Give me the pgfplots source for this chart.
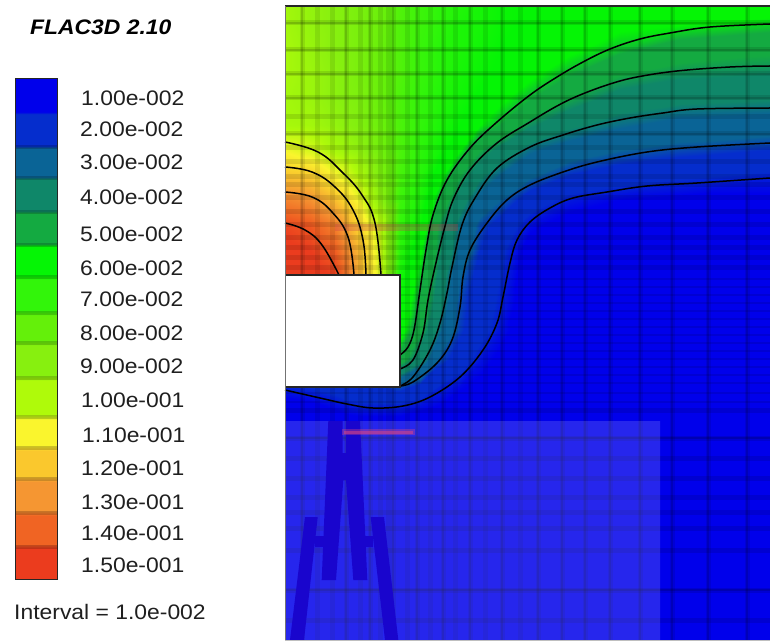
\documentclass[border=0pt]{standalone}
\usepackage{pgfplots}
\usepackage{pgfplotstable}
\usepackage{fontspec}
\setmainfont{Liberation Sans}
\pgfplotsset{compat=1.18}
\definecolor{towerblue}{RGB}{25,5,205}
\definecolor{streakA}{RGB}{225,70,130}
\definecolor{streakB}{RGB}{200,60,80}
\pgfplotstableread{
x y v
285 6 .097
310 6 .093
335 6 .090
360 6 .086
380 6 .082
400 6 .076
420 6 .072
440 6 .069
460 6 .067
480 6 .065
500 6 .063
530 6 .062
570 6 .060
620 6 .060
680 6 .060
770 6 .060

285 25 .097
310 25 .093
335 25 .090
360 25 .086
380 25 .082
400 25 .076
420 25 .072
440 25 .069
460 25 .066
480 25 .065
500 25 .063
530 25 .061
570 25 .059
620 25 .058
680 25 .057
770 25 .055

285 50 .098
310 50 .094
335 50 .090
360 50 .086
380 50 .081
400 50 .076
420 50 .071
440 50 .068
460 50 .066
480 50 .064
500 50 .062
530 50 .060
570 50 .058
620 50 .054
680 50 .050
770 50 .048

285 75 .098
310 75 .095
335 75 .091
360 75 .086
380 75 .081
400 75 .076
420 75 .071
440 75 .068
460 75 .065
480 75 .063
500 75 .061
530 75 .058
570 75 .053
620 75 .047
680 75 .044
770 75 .043

285 100 .097
310 100 .095
335 100 .091
360 100 .087
380 100 .081
400 100 .075
420 100 .070
440 100 .067
460 100 .064
480 100 .061
500 100 .058
530 100 .053
570 100 .046
620 100 .040
680 100 .038
770 100 .037

285 125 .098
310 125 .097
335 125 .093
360 125 .088
380 125 .082
400 125 .075
420 125 .070
440 125 .066
460 125 .062
480 125 .057
500 125 .053
530 125 .044
570 125 .038
620 125 .034
680 125 .031
770 125 .030

285 150 .109
310 150 .105
335 150 .098
360 150 .092
380 150 .084
400 150 .075
420 150 .069
440 150 .064
460 150 .057
480 150 .047
500 150 .041
530 150 .034
570 150 .030
620 150 .027
680 150 .025
770 150 .023

285 175 .121
310 175 .119
335 175 .110
360 175 .099
380 175 .087
400 175 .074
420 175 .068
440 175 .059
460 175 .047
480 175 .038
500 175 .033
530 175 .028
570 175 .023
620 175 .020
680 175 .018
770 175 .016

285 200 .134
310 200 .131
335 200 .122
360 200 .108
380 200 .092
400 200 .072
420 200 .066
440 200 .052
460 200 .040
480 200 .031
500 200 .027
530 200 .020
570 200 .015
620 200 .013
680 200 .012
770 200 .012

285 225 .145
310 225 .142
335 225 .134
360 225 .116
380 225 .102
400 225 .070
420 225 .063
440 225 .045
460 225 .034
480 225 .025
500 225 .021
530 225 .014
570 225 .011
620 225 .010
680 225 .010
770 225 .010

285 250 .149
310 250 .147
335 250 .141
360 250 .122
380 250 .104
400 250 .068
420 250 .058
440 250 .044
460 250 .032
480 250 .023
500 250 .018
530 250 .011
570 250 .010
620 250 .010
680 250 .010
770 250 .010

285 275 .150
310 275 .150
335 275 .146
360 275 .124
380 275 .105
400 275 .065
420 275 .055
440 275 .041
460 275 .027
480 275 .021
500 275 .017
530 275 .010
570 275 .010
620 275 .010
680 275 .010
770 275 .010

285 300 .063
310 300 .063
335 300 .063
360 300 .063
380 300 .063
400 300 .063
420 300 .052
440 300 .039
460 300 .025
480 300 .020
500 300 .016
530 300 .010
570 300 .010
620 300 .010
680 300 .010
770 300 .010

285 330 .060
310 330 .060
335 330 .060
360 330 .060
380 330 .060
400 330 .060
420 330 .048
440 330 .034
460 330 .024
480 330 .019
500 330 .0145
530 330 .010
570 330 .010
620 330 .010
680 330 .010
770 330 .010

285 360 .050
310 360 .050
335 360 .050
360 360 .050
380 360 .050
400 360 .050
420 360 .039
440 360 .025
460 360 .020
480 360 .0145
500 360 .012
530 360 .010
570 360 .010
620 360 .010
680 360 .010
770 360 .010

285 387 .016
310 387 .017
335 387 .019
360 387 .022
380 387 .023
400 387 .025
420 387 .021
440 387 .016
460 387 .0135
480 387 .012
500 387 .010
530 387 .010
570 387 .010
620 387 .010
680 387 .010
770 387 .010

285 405 .011
310 405 .012
335 405 .014
360 405 .016
380 405 .016
400 405 .016
420 405 .0145
440 405 .013
460 405 .011
480 405 .010
500 405 .010
530 405 .010
570 405 .010
620 405 .010
680 405 .010
770 405 .010

285 420 .010
310 420 .010
335 420 .011
360 420 .012
380 420 .012
400 420 .012
420 420 .011
440 420 .011
460 420 .010
480 420 .010
500 420 .010
530 420 .010
570 420 .010
620 420 .010
680 420 .010
770 420 .010

285 640 .010
310 640 .010
335 640 .010
360 640 .010
380 640 .010
400 640 .010
420 640 .010
440 640 .010
460 640 .010
480 640 .010
500 640 .010
530 640 .010
570 640 .010
620 640 .010
680 640 .010
770 640 .010
}\fieldtable
\pgfplotstableread{
x y v
15 79 .010
57 79 .010

15 110 .010
57 110 .010

15 116 .020
57 116 .020

15 144 .020
57 144 .020

15 150 .030
57 150 .030

15 175 .030
57 175 .030

15 181 .040
57 181 .040

15 209 .040
57 209 .040

15 215 .050
57 215 .050

15 242 .050
57 242 .050

15 248 .060
57 248 .060

15 274 .060
57 274 .060

15 280 .070
57 280 .070

15 310 .070
57 310 .070

15 316 .080
57 316 .080

15 340 .080
57 340 .080

15 346 .090
57 346 .090

15 375 .090
57 375 .090

15 381 .100
57 381 .100

15 414 .100
57 414 .100

15 420 .110
57 420 .110

15 445 .110
57 445 .110

15 451 .120
57 451 .120

15 476 .120
57 476 .120

15 482 .130
57 482 .130

15 510 .130
57 510 .130

15 516 .140
57 516 .140

15 544 .140
57 544 .140

15 550 .150
57 550 .150

15 579 .150
57 579 .150
}\legendtable
\newcommand{\lab}[3]{\node[anchor=west,xscale=1.09,inner sep=0pt,text=black!88] at (axis cs:#1,#2) {\fontsize{21}{24}\selectfont #3};}
\begin{document}
\begin{tikzpicture}
\path[use as bounding box] (0,0) rectangle (770pt,644pt);
\begin{axis}[
  at={(0,0)}, anchor=south west,
  scale only axis, width=770pt, height=644pt, hide axis,
  xmin=0, xmax=770, ymin=0, ymax=644, y dir=reverse, clip=true,
  point meta min=0.01, point meta max=0.15,
  colormap={flac}{
    rgb255(10pt)=(0,0,235) rgb255(13pt)=(0,0,235)
    rgb255(17pt)=(5,45,205) rgb255(23pt)=(5,45,205)
    rgb255(27pt)=(10,100,150) rgb255(33pt)=(10,100,150)
    rgb255(37pt)=(15,135,105) rgb255(43pt)=(15,135,105)
    rgb255(47pt)=(20,170,65) rgb255(53pt)=(20,170,65)
    rgb255(57pt)=(5,245,5) rgb255(62pt)=(5,245,5)
    rgb255(70pt)=(50,245,10)
    rgb255(80pt)=(100,240,10)
    rgb255(90pt)=(135,240,15)
    rgb255(100pt)=(175,250,10)
    rgb255(110pt)=(250,245,45)
    rgb255(120pt)=(250,200,45)
    rgb255(130pt)=(245,150,50)
    rgb255(140pt)=(240,100,35)
    rgb255(147pt)=(235,60,30) rgb255(150pt)=(235,60,30)
  },
  vgrid/.style={black, opacity=#1, forget plot},
]
% field
\addplot[surf, shader=interp, mesh/cols=16, point meta=explicit, forget plot] table[x=x,y=y,meta=v] {\fieldtable};
% vertical mesh lines
\addplot[vgrid=.09, line width=5pt] coordinates {
(302,6)(302,640)

(317,6)(317,640)

(332,6)(332,640)

(346,6)(346,640)

(360,6)(360,640)

(370,6)(370,640)

(380,6)(380,640)

(388,6)(388,640)

(393,6)(393,640)

(407,6)(407,640)

(417,6)(417,640)

(430,6)(430,640)

(443,6)(443,640)

(455,6)(455,640)

(470,6)(470,640)

(485,6)(485,640)

(502,6)(502,640)

(520,6)(520,640)

(538,6)(538,640)

(562,6)(562,640)

(585,6)(585,640)

(610,6)(610,640)

(640,6)(640,640)

(672,6)(672,640)

(708,6)(708,640)

(747,6)(747,640)
};
\addplot[vgrid=.13, line width=2.6pt] coordinates {
(302,6)(302,640)

(346,6)(346,640)

(370,6)(370,640)

(393,6)(393,640)

(417,6)(417,640)

(443,6)(443,640)

(470,6)(470,640)

(502,6)(502,640)

(538,6)(538,640)

(562,6)(562,640)

(585,6)(585,640)

(610,6)(610,640)

(640,6)(640,640)

(672,6)(672,640)

(708,6)(708,640)

(747,6)(747,640)
};
% horizontal mesh lines
\addplot[vgrid=.11, line width=5pt] coordinates {
(285,23)(770,23)

(285,50)(770,50)

(285,74)(770,74)

(285,98)(770,98)

(285,117)(770,117)

(285,134)(770,134)

(285,148)(770,148)

(285,162)(770,162)

(285,177)(770,177)

(285,185)(770,185)

(285,198)(770,198)

(285,212)(770,212)

(285,225)(770,225)

(285,237)(770,237)

(285,247)(770,247)

(285,257)(770,257)

(285,267)(770,267)

(285,410)(770,410)

(285,438)(770,438)

(285,458)(770,458)

(285,478)(770,478)

(285,497)(770,497)

(285,512)(770,512)

(285,528)(770,528)

(285,550)(770,550)

(285,590)(770,590)

(285,620)(770,620)
};
\addplot[vgrid=.15, line width=2.6pt] coordinates {
(285,23)(770,23)

(285,50)(770,50)

(285,74)(770,74)

(285,98)(770,98)

(285,134)(770,134)

(285,438)(770,438)

(285,590)(770,590)
};
\addplot[vgrid=.10, line width=2.5pt] coordinates {
(285,279)(770,279)

(285,287)(770,287)

(285,295)(770,295)

(285,303)(770,303)

(285,311)(770,311)

(285,319)(770,319)

(285,327)(770,327)

(285,335)(770,335)

(285,343)(770,343)

(285,351)(770,351)

(285,359)(770,359)

(285,367)(770,367)

(285,375)(770,375)

(285,383)(770,383)

(285,393)(770,393)

(285,402)(770,402)
};
% translucent panel
\addplot[draw=none, fill=white, fill opacity=.15, forget plot] coordinates {(285,421)(660,421)(660,640)(285,640)(285,421)};
% tower silhouette
\addplot[draw=none, fill=towerblue, forget plot] coordinates {(328.3,421)(342.7,421)(342.7,453)(346,453)(346,421)(360,421)(367.3,580)(353.3,580)(346,480)(343.3,480)(336,580)(321.7,580)(328.3,421)};
\addplot[draw=none, fill=towerblue, forget plot] coordinates {(305,517)(317.7,517)(304,640)(290,640)(305,517)};
\addplot[draw=none, fill=towerblue, forget plot] coordinates {(370.7,517)(384,517)(398.3,640)(385,640)(370.7,517)};
\addplot[draw=none, fill=towerblue, forget plot] coordinates {(315,536)(326,536)(326,547)(315,547)(315,536)};
\addplot[draw=none, fill=towerblue, forget plot] coordinates {(362,536)(373,536)(373,547)(362,547)(362,536)};
% pink streaks
\addplot[color=streakA, opacity=.35, line width=6pt, forget plot] coordinates {(342,432)(415,432)};
\addplot[color=streakA, opacity=.5, line width=3pt, forget plot] coordinates {(344,432)(413,432)};
\addplot[color=streakB, opacity=.3, line width=7pt, forget plot] coordinates {(335,228)(458,228)};
% notch
\addplot[draw=none, fill=white, forget plot] coordinates {(285,275)(400,275)(400,387)(285,387)(285,275)};
% contours
\addplot[black, line width=1.5pt, smooth, tension=.6, forget plot] coordinates {(770,24)(710,27)(670,33)(640,39)(610,49)(583,62)(557,77)(530,95)(497,122)(470,148)(447,180)(433,215)(426,250)(420,290)(414,330)(408,347)(400,355)};
\addplot[black, line width=1.5pt, smooth, tension=.6, forget plot] coordinates {(770,66)(730,67)(677,71)(637,77)(610,84)(580,95)(557,106)(530,122)(497,143)(470,170)(453,200)(444,230)(435,267)(428,300)(423,333)(413,360)(400,369)};
\addplot[black, line width=1.5pt, smooth, tension=.6, forget plot] coordinates {(770,108)(697,109)(663,113)(630,118)(597,125)(563,135)(530,147)(497,168)(475,198)(462,225)(452,267)(447,293)(440,323)(430,350)(413,377)(400,386)};
\addplot[black, line width=1.5pt, smooth, tension=.6, forget plot] coordinates {(770,143)(697,147)(647,152)(597,162)(563,172)(530,185)(507,200)(487,223)(470,250)(463,277)(460,307)(452,340)(437,363)(413,382)(400,386)};
\addplot[black, line width=1.5pt, smooth, tension=.6, forget plot] coordinates {(770,178)(697,183)(647,186)(607,192)(573,198)(550,208)(530,222)(517,240)(510,263)(503,297)(497,323)(483,350)(460,377)(430,397)(403,406)(373,408)(347,404)(320,398)(285,390)};
\addplot[black, line width=1.5pt, smooth, tension=.7, forget plot] coordinates {(285,142)(318,152)(342,172)(362,195)(375,223)(381,275)};
\addplot[black, line width=1.5pt, smooth, tension=.7, forget plot] coordinates {(285,167)(312,172)(335,187)(353,210)(363,240)(366,275)};
\addplot[black, line width=1.5pt, smooth, tension=.7, forget plot] coordinates {(285,192)(312,197)(332,212)(348,237)(354,275)};
\addplot[black, line width=1.5pt, smooth, tension=.7, forget plot] coordinates {(285,223)(305,230)(322,245)(339,275)};
% frame
\addplot[black!85, line width=1.2pt, forget plot] coordinates {(285,275)(400,275)(400,387)(285,387)};
\addplot[black!85, line width=1.2pt, forget plot] coordinates {(285,6)(770,6)};
\addplot[black!55, line width=1pt, forget plot] coordinates {(285,6)(285,640)};
\addplot[black!25, line width=1pt, forget plot] coordinates {(285,640.5)(770,640.5)};
% legend bar
\addplot[surf, shader=interp, mesh/cols=2, point meta=explicit, forget plot] table[x=x,y=y,meta=v] {\legendtable};
\addplot[black, opacity=.18, line width=3.5pt, forget plot] coordinates {
(15,147)(57,147)

(15,178)(57,178)

(15,212)(57,212)

(15,245)(57,245)

(15,277)(57,277)

(15,313)(57,313)

(15,343)(57,343)

(15,378)(57,378)

(15,417)(57,417)

(15,448)(57,448)

(15,479)(57,479)

(15,513)(57,513)

(15,547)(57,547)
};
\addplot[black!85, line width=1pt, forget plot] coordinates {(15,79)(57,79)(57,579)(15,579)(15,79)};
\node[anchor=west,xscale=1.09,inner sep=0pt] at (axis cs:30,27) {\fontsize{21}{24}\selectfont\bfseries\itshape FLAC3D 2.10};
\lab{81}{98}{1.00e-002}
\lab{80}{129}{2.00e-002}
\lab{80}{162}{3.00e-002}
\lab{80}{197}{4.00e-002}
\lab{80}{234}{5.00e-002}
\lab{80}{268}{6.00e-002}
\lab{80}{299}{7.00e-002}
\lab{80}{333}{8.00e-002}
\lab{80}{366}{9.00e-002}
\lab{81}{400}{1.00e-001}
\lab{82}{435}{1.10e-001}
\lab{81}{468}{1.20e-001}
\lab{81}{502}{1.30e-001}
\lab{81}{533}{1.40e-001}
\lab{81}{565}{1.50e-001}
\lab{14}{612}{Interval = 1.0e-002}
\end{axis}
\end{tikzpicture}
\end{document}
